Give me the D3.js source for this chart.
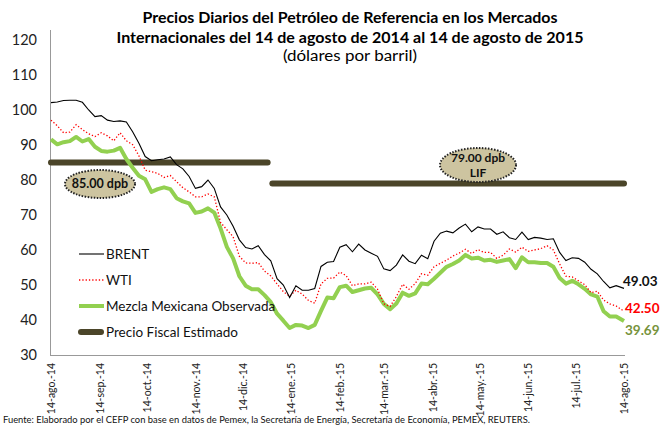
<!DOCTYPE html>
<html><head><meta charset="utf-8">
<script src="https://cdn.jsdelivr.net/npm/d3@7"></script>
<style>body{margin:0;background:#fff}svg{display:block}text{font-family:Lato,"Open Sans",sans-serif}</style>
</head><body><svg id="c" width="668" height="426"></svg>
<script>
const dates = ["2014-08-14","2014-08-18","2014-08-22","2014-08-26","2014-08-30","2014-09-03","2014-09-07","2014-09-11","2014-09-15","2014-09-19","2014-09-23","2014-09-27","2014-10-01","2014-10-05","2014-10-09","2014-10-13","2014-10-17","2014-10-21","2014-10-25","2014-10-29","2014-11-02","2014-11-06","2014-11-10","2014-11-14","2014-11-18","2014-11-22","2014-11-26","2014-11-30","2014-12-04","2014-12-08","2014-12-12","2014-12-16","2014-12-20","2014-12-24","2014-12-28","2015-01-01","2015-01-05","2015-01-09","2015-01-13","2015-01-17","2015-01-21","2015-01-25","2015-01-29","2015-02-02","2015-02-06","2015-02-10","2015-02-14","2015-02-18","2015-02-22","2015-02-26","2015-03-02","2015-03-06","2015-03-10","2015-03-14","2015-03-18","2015-03-22","2015-03-26","2015-03-30","2015-04-03","2015-04-07","2015-04-11","2015-04-15","2015-04-19","2015-04-23","2015-04-27","2015-05-01","2015-05-05","2015-05-09","2015-05-13","2015-05-17","2015-05-21","2015-05-25","2015-05-29","2015-06-02","2015-06-06","2015-06-10","2015-06-14","2015-06-18","2015-06-22","2015-06-26","2015-06-30","2015-07-04","2015-07-08","2015-07-12","2015-07-16","2015-07-20","2015-07-24","2015-07-28","2015-08-01","2015-08-05","2015-08-09","2015-08-14"];
const brent = [102.1,102.3,102.7,102.8,102.8,102.2,100.0,98.1,98.4,97.1,96.7,96.9,96.6,93.8,90.5,86.7,85.5,85.8,86.0,86.6,84.4,83.2,81.0,77.6,78.1,80.0,77.6,72.3,70.0,66.8,62.9,60.7,60.3,61.2,58.7,56.9,51.8,50.0,46.4,49.8,48.5,48.5,49.0,55.3,56.5,56.7,60.8,61.5,59.5,61.7,60.0,59.1,58.2,54.6,54.1,55.7,58.6,56.8,56.1,58.5,57.5,62.5,64.8,65.4,64.9,66.3,67.4,65.2,66.6,66.0,66.0,64.5,65.2,63.5,63.0,65.1,63.0,63.6,63.4,63.0,63.2,59.3,57.0,57.8,57.6,56.5,54.5,53.2,51.0,49.2,49.8,49.03];
const wti = [97.1,95.5,93.5,93.7,95.8,94.4,93.2,92.4,93.5,92.6,91.2,93.5,91.2,90.1,86.9,82.8,82.4,81.9,80.7,81.3,79.5,77.8,76.6,75.2,75.2,76.0,75.2,67.9,65.8,63.8,58.2,56.3,56.2,56.4,54.0,52.6,50.3,48.1,46.8,48.5,47.4,45.6,44.8,50.3,51.9,52.0,53.7,52.7,49.8,50.3,50.3,50.8,48.8,44.6,43.9,46.7,50.2,48.8,50.4,53.2,52.8,55.2,56.2,57.1,58.3,59.1,60.2,59.0,60.1,59.3,59.3,57.6,58.5,60.3,59.4,60.8,59.6,60.0,60.4,61.2,60.0,56.0,52.5,52.3,51.2,50.1,47.8,48.2,45.7,44.6,44.0,42.50];
const mezcla = [91.6,90.2,90.8,91.1,92.3,91.0,91.7,89.5,88.3,88.1,88.4,89.2,86.0,83.5,81.2,80.2,76.6,77.4,77.9,77.4,74.8,73.9,73.3,70.6,71.0,71.9,70.7,66.2,60.9,57.6,52.5,49.8,48.8,48.8,47.1,45.1,41.8,39.8,37.7,38.6,38.4,37.7,38.6,42.6,46.4,46.2,49.4,49.8,48.0,48.5,49.0,49.2,47.3,44.6,43.1,44.7,47.8,46.9,47.6,50.4,50.2,51.8,53.5,55.2,56.0,57.0,58.6,57.6,57.8,57.0,57.2,56.6,57.0,57.4,54.8,57.9,56.5,56.5,56.3,56.3,55.2,52.0,50.4,51.2,50.2,48.9,47.3,46.7,42.5,41.0,41.0,39.69];
const fiscalStart = ["2014-08-14","2015-01-02"];
const fiscalEnd = ["2014-12-30","2015-08-14"];
const fiscalValues = [85, 79];
const fiscalLabels = [["85.00 dpb"],["79.00 dpb","LIF"]];
const tickDates = ["2014-08-14","2014-09-14","2014-10-14","2014-11-14","2014-12-14","2015-01-14","2015-02-14","2015-03-14","2015-04-14","2015-05-14","2015-06-14","2015-07-14","2015-08-14"];
const tickLabels = ["14-ago.-14","14-sep.-14","14-oct.-14","14-nov.-14","14-dic.-14","14-ene.-15","14-feb.-15","14-mar.-15","14-abr.-15","14-may.-15","14-jun.-15","14-jul.-15","14-ago.-15"];
const yTicks = [30,40,50,60,70,80,90,100,110,120];
const seriesNames = ["BRENT","WTI","Mezcla Mexicana Observada","Precio Fiscal Estimado"];
const endLabels = ["49.03","42.50","39.69"];
const titleLines = ["Precios Diarios del Petróleo de Referencia en los Mercados","Internacionales del 14 de agosto de 2014 al 14 de agosto de 2015","(dólares por barril)"];
const sourceText = "Fuente: Elaborado por el CEFP con base en datos de Pemex,  la Secretaría de Energía, Secretaría de Economía, PEMEX, REUTERS.";

const parse = d3.timeParse("%Y-%m-%d");
const svg = d3.select("#c");
const x = d3.scaleTime().domain([parse("2014-08-14"), parse("2015-08-14")]).range([51, 624]);
const y = d3.scaleLinear().domain([30,120]).range([355,40]);

// title
const tA = [{y:23,w:415,b:true,s:15},{y:43,w:467,b:true,s:15},{y:61,w:134,b:false,s:14.5}];
titleLines.forEach((t,i)=>{
  svg.append("text").attr("x",350).attr("y",tA[i].y).attr("text-anchor","middle")
    .attr("font-size",tA[i].s).attr("font-weight",tA[i].b?"bold":"normal").attr("fill","#000")
    .attr("textLength",tA[i].w).attr("lengthAdjust","spacingAndGlyphs").text(t);
});

// axes
const yAxis = svg.append("g").attr("transform","translate(50,0)")
  .call(d3.axisLeft(y).tickValues(yTicks).tickSize(0).tickPadding(13).tickFormat(d3.format("d")));
yAxis.select(".domain").remove();
yAxis.selectAll("text").attr("font-size",14.5).attr("fill","#222").style("font-family","Lato");
svg.append("line").attr("x1",50.5).attr("x2",50.5).attr("y1",30).attr("y2",355.5).attr("stroke","#999");

const xAxis = svg.append("g").attr("transform","translate(0,355)")
  .call(d3.axisBottom(x).tickValues(tickDates.map(parse)).tickSize(0)
    .tickFormat((d,i)=>tickLabels[i]));
xAxis.select(".domain").remove();
xAxis.selectAll("text").attr("font-size",10.5).attr("fill","#222").style("font-family","Lato")
  .attr("text-anchor","end").attr("dy","0.35em").attr("y",0)
  .attr("transform","translate(0,8) rotate(-90)");
svg.append("line").attr("x1",50).attr("x2",625).attr("y1",355.5).attr("y2",355.5).attr("stroke","#999");

// fiscal bars
const fiscColor = "#4b4529";
fiscalValues.forEach((v,i)=>{
  svg.append("line").attr("x1",x(parse(fiscalStart[i]))).attr("x2",x(parse(fiscalEnd[i])))
    .attr("y1",y(v)).attr("y2",y(v)).attr("stroke",fiscColor).attr("stroke-width",6)
    .attr("stroke-linecap","round");
});

// series
const line = d3.line().x((d,i)=>x(parse(dates[i]))).y(d=>y(d));
svg.append("path").datum(mezcla).attr("d",line).attr("fill","none").attr("stroke","#92d050").attr("stroke-width",4).attr("stroke-linejoin","round");
svg.append("path").datum(wti).attr("d",line).attr("fill","none").attr("stroke","#ff0000").attr("stroke-width",1.3).attr("stroke-dasharray","1.3,2");
svg.append("path").datum(brent).attr("d",line).attr("fill","none").attr("stroke","#000").attr("stroke-width",1.1);

// ellipses
const ell = [{cx:100,cy:184,rx:35,ry:14},{cx:478,cy:165,rx:38,ry:17}];
ell.forEach((e,i)=>{
  svg.append("ellipse").attr("cx",e.cx).attr("cy",e.cy).attr("rx",e.rx).attr("ry",e.ry)
    .attr("fill","#cdc4a0").attr("stroke","#222").attr("stroke-width",2).attr("stroke-dasharray","1.5,1.5");
  const ls = fiscalLabels[i];
  ls.forEach((t,j)=>{
    svg.append("text").attr("x",e.cx).attr("y",e.cy + (j - (ls.length-1)/2)*15).attr("dy","0.35em")
      .attr("text-anchor","middle").attr("font-size",ls.length>1?12:12.5).attr("font-weight","bold").attr("fill","#111").text(t);
  });
});

// legend
const legY = [254,280,306,332];
const legStyles = [
  {c:"#000",w:1.1,d:null,cap:"butt"},
  {c:"#ff0000",w:1.3,d:"1.3,2",cap:"butt"},
  {c:"#92d050",w:4,d:null,cap:"butt"},
  {c:fiscColor,w:6,d:null,cap:"round"}];
seriesNames.forEach((n,i)=>{
  const s = legStyles[i];
  svg.append("line").attr("x1",i==3?81:79).attr("x2",i==3?101:104).attr("y1",legY[i]).attr("y2",legY[i])
    .attr("stroke",s.c).attr("stroke-width",s.w).attr("stroke-dasharray",s.d).attr("stroke-linecap",s.cap);
  svg.append("text").attr("x",106).attr("y",legY[i]).attr("dy","0.35em").attr("font-size",13.5).attr("fill","#111").text(n);
});

// end labels
const endY = [281,308,330];
const endC = ["#111","#ff0000","#77933c"];
const endX = [623,625,625];
endLabels.forEach((t,i)=>{
  svg.append("text").attr("x",endX[i]).attr("y",endY[i]).attr("dy","0.35em").attr("font-size",13.5)
    .attr("font-weight","bold").attr("fill",endC[i]).text(t);
});

// source
svg.append("text").attr("x",3).attr("y",423).attr("font-size",10).attr("fill","#111")
  .attr("textLength",527).attr("lengthAdjust","spacingAndGlyphs").text(sourceText);
</script></body></html>
